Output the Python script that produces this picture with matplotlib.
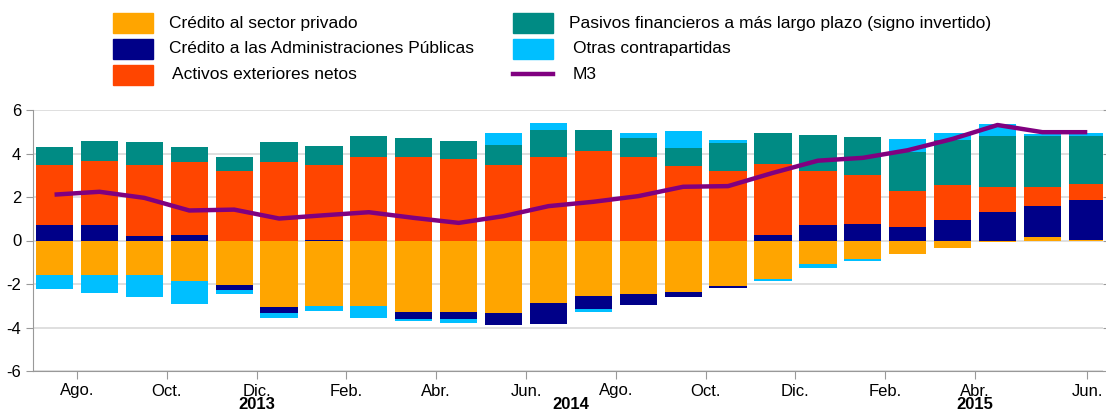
import numpy as np
import matplotlib
matplotlib.use("Agg")
import matplotlib.pyplot as plt
from matplotlib.patches import Rectangle
from matplotlib.lines import Line2D

plt.rcParams['font.family'] = ['Liberation Sans', 'DejaVu Sans']

months = ['Jul13', 'Ago13', 'Sep13', 'Oct13', 'Nov13', 'Dic13', 'Ene14', 'Feb14',
          'Mar14', 'Abr14', 'May14', 'Jun14', 'Jul14', 'Ago14', 'Sep14', 'Oct14',
          'Nov14', 'Dic14', 'Ene15', 'Feb15', 'Mar15', 'Abr15', 'May15', 'Jun15']

credito_privado = [-1.59, -1.59, -1.59, -1.88, -2.05, -3.08, -3.02, -3.00,
                   -3.29, -3.29, -3.35, -2.89, -2.54, -2.48, -2.39, -2.10,
                   -1.76, -1.07, -0.86, -0.60, -0.34, -0.06, 0.18, 0.03]
credito_aapp = [0.73, 0.70, 0.20, 0.25, -0.22, -0.24, 0.03, 0.00,
                -0.34, -0.34, -0.52, -0.97, -0.60, -0.48, -0.21, -0.09,
                0.25, 0.70, 0.78, 0.63, 0.95, 1.33, 1.41, 1.84]
activos_exteriores = [2.76, 2.94, 3.26, 3.35, 3.20, 3.60, 3.42, 3.84,
                      3.86, 3.77, 3.46, 3.84, 4.12, 3.86, 3.41, 3.19,
                      3.29, 2.50, 2.24, 1.65, 1.58, 1.14, 0.89, 0.73]
pasivos_largo_plazo = [0.81, 0.94, 1.07, 0.70, 0.66, 0.95, 0.91, 0.98,
                       0.83, 0.81, 0.95, 1.23, 0.95, 0.86, 0.85, 1.27,
                       1.41, 1.65, 1.73, 1.78, 2.11, 2.34, 2.34, 2.22]
otras = [-0.63, -0.81, -1.01, -1.06, -0.20, -0.26, -0.20, -0.58,
         -0.08, -0.18, 0.51, 0.32, -0.15, 0.23, 0.78, 0.18,
         -0.11, -0.19, -0.09, 0.61, 0.32, 0.53, 0.08, 0.13]
m3 = [2.11, 2.24, 1.96, 1.38, 1.42, 1.01, 1.16, 1.30,
      1.04, 0.81, 1.12, 1.58, 1.78, 2.04, 2.47, 2.50,
      3.11, 3.67, 3.80, 4.15, 4.67, 5.31, 4.98, 4.98]

tick_pos = [0.5, 2.5, 4.5, 6.5, 8.5, 10.5, 12.5, 14.5, 16.5, 18.5, 20.5, 23]
tick_labels = ['Ago.', 'Oct.', 'Dic.', 'Feb.', 'Abr.', 'Jun.',
               'Ago.', 'Oct.', 'Dic.', 'Feb.', 'Abr.', 'Jun.']
year_pos = [4.5, 11.5, 20.5]
year_labels = ['2013', '2014', '2015']

series = [
    ('Crédito al sector privado', credito_privado, '#FFA500'),
    ('Crédito a las Administraciones Públicas', credito_aapp, '#000088'),
    ('Activos exteriores netos', activos_exteriores, '#FF4500'),
    ('Pasivos financieros a más largo plazo (signo invertido)', pasivos_largo_plazo, '#008B84'),
    ('Otras contrapartidas', otras, '#00BFFF'),
]
m3_color = '#800080'

W, H = 1106, 412
fig = plt.figure(figsize=(11.06, 4.12), dpi=100)
ax = fig.add_axes([33/W, 41/H, 1070/W, 261/H])

x = np.arange(len(months))
pos = np.zeros(len(months))
neg = np.zeros(len(months))
for name, vals, col in series:
    v = np.array(vals, dtype=float)
    bottoms = np.where(v >= 0, pos, neg)
    ax.bar(x, v, width=0.83, bottom=bottoms, color=col, edgecolor='none', zorder=2)
    pos = pos + np.where(v >= 0, v, 0)
    neg = neg + np.where(v < 0, v, 0)

ax.plot(x, m3, color=m3_color, lw=3.2, zorder=3, solid_capstyle='butt')

ax.set_xlim(-0.48, 23.35)
ax.set_ylim(-6, 6)
ax.set_yticks([-6, -4, -2, 0, 2, 4, 6])
ax.set_yticklabels(['-6', '-4', '-2', '0', '2', '4', '6'], fontsize=12)
ax.grid(axis='y', color='#d9d9d9', lw=1.2, zorder=0)
ax.set_axisbelow(True)
for s in ['top', 'right']:
    ax.spines[s].set_visible(False)
ax.spines['left'].set_color('#999999')
ax.spines['bottom'].set_color('#999999')
ax.tick_params(axis='y', colors='#999999', labelcolor='black', length=5, right=True, direction='out')
ax.tick_params(axis='y', which='both', labelright=False)
ax.set_xticks(tick_pos)
ax.set_xticklabels(tick_labels, fontsize=12)
ax.tick_params(axis='x', colors='#999999', labelcolor='black', length=6, pad=3)
for xp, yl in zip(year_pos, year_labels):
    ax.text(xp, (371 - 409) / 261, yl, transform=ax.get_xaxis_transform(), ha='center',
            va='baseline', fontsize=12, fontweight='bold')

# Legend drawn manually in figure coordinates
handles = [(s[0], s[2], 'patch') for s in series] + [('M3', m3_color, 'line')]
cols = [113, 513]
rows = [23.3, 48.7, 74.5]
text_x = [[169, 169, 172], [569, 573, 573]]
for i, (lab, col, kind) in enumerate(handles):
    c = i // 3
    r = i % 3
    cx = cols[c]
    cy = rows[r]
    if kind == 'patch':
        fig.add_artist(Rectangle((cx / W, 1 - (cy + 10) / H), 40 / W, 20 / H,
                                 transform=fig.transFigure, color=col))
    else:
        fig.add_artist(Line2D([cx / W, (cx + 40) / W], [1 - (cy - 1) / H] * 2,
                              transform=fig.transFigure, color=col, lw=3.2))
    fig.text(text_x[c][r] / W, 1 - cy / H, lab, fontsize=12.5, va='center', ha='left')

fig.savefig('out.png', dpi=100)
